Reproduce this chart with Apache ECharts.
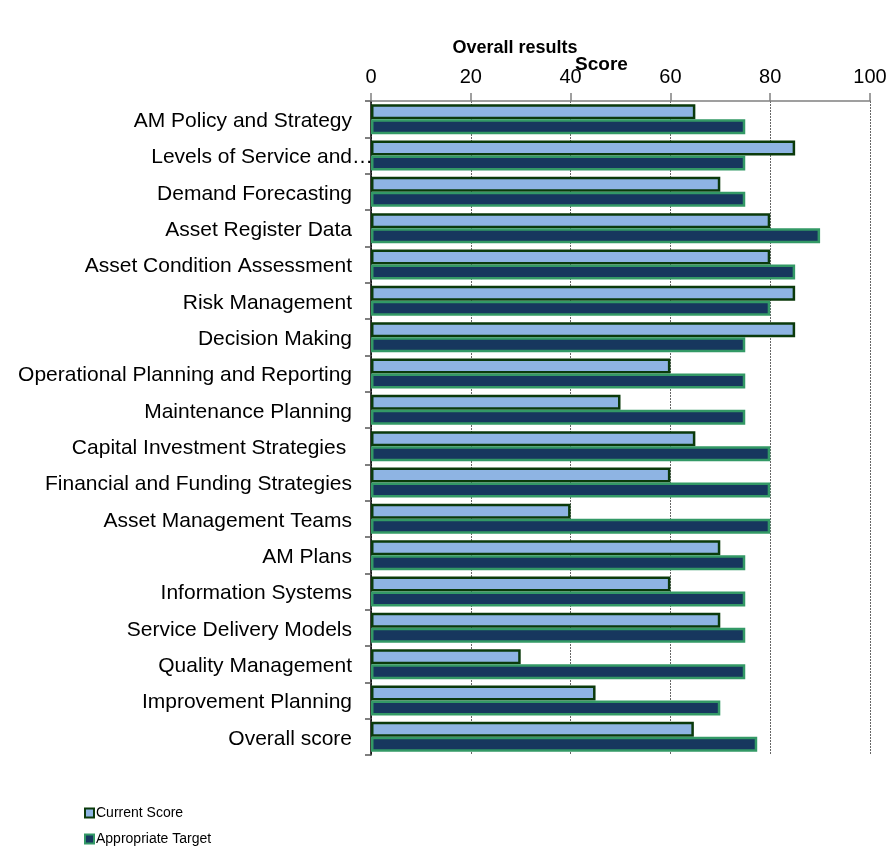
<!DOCTYPE html>
<html>
<head>
<meta charset="utf-8">
<script src="https://cdn.jsdelivr.net/npm/echarts@6/dist/echarts.min.js"></script>
<style>
  html, body { margin: 0; padding: 0; background: #fff; }
  #chart { width: 890px; height: 847px; }
</style>
</head>
<body>
<div id="chart"></div>
<script>
// Asset management maturity: current score vs appropriate target per practice area
const categories = [
  'AM Policy and Strategy',
  'Levels of Service and…',
  'Demand Forecasting',
  'Asset Register Data',
  'Asset Condition Assessment',
  'Risk Management',
  'Decision Making',
  'Operational Planning and Reporting',
  'Maintenance Planning',
  'Capital Investment Strategies ',
  'Financial and Funding Strategies',
  'Asset Management Teams',
  'AM Plans',
  'Information Systems',
  'Service Delivery Models',
  'Quality Management',
  'Improvement Planning',
  'Overall score'
];
const currentScore = [65, 85, 70, 80, 80, 85, 85, 60, 50, 65, 60, 40, 70, 60, 70, 30, 45, 64.7];
const appropriateTarget = [75, 75, 75, 90, 85, 80, 75, 75, 75, 80, 80, 80, 75, 75, 75, 75, 70, 77.4];
const scoreTicks = [0, 20, 40, 60, 80, 100];

const FONT = 'Liberation Sans, Arial, sans-serif';

const chart = echarts.init(document.getElementById('chart'), null, { renderer: 'canvas' });

const legendText = { fontFamily: FONT, fontSize: 14, color: '#000', padding: [0, 0, 0, -3] };

chart.setOption({
  animation: false,
  backgroundColor: '#ffffff',
  title: {
    text: 'Overall results',
    left: 510,
    textAlign: 'center',
    top: 34,
    textStyle: { fontFamily: FONT, fontSize: 18, fontWeight: 'bold', color: '#000' }
  },
  legend: [
    {
      orient: 'vertical', left: 79, top: 801,
      itemWidth: 9, itemHeight: 9, icon: 'rect',
      textStyle: legendText,
      data: ['Current Score']
    },
    {
      orient: 'vertical', left: 79, top: 827,
      itemWidth: 9, itemHeight: 9, icon: 'rect',
      textStyle: legendText,
      data: ['Appropriate Target']
    }
  ],
  grid: { left: 371, right: 20, top: 101, bottom: 92, containLabel: false },
  xAxis: {
    type: 'value',
    position: 'top',
    min: scoreTicks[0],
    max: scoreTicks[scoreTicks.length - 1],
    interval: scoreTicks[1] - scoreTicks[0],
    name: 'Score',
    nameLocation: 'middle',
    nameGap: 27,
    nameMoveOverlap: false,
    nameTextStyle: { fontFamily: FONT, fontSize: 19, fontWeight: 'bold', color: '#000', padding: [0, 38, 0, 0] },
    axisLine: { show: true, lineStyle: { color: '#808080', width: 1.5 } },
    axisTick: { show: true, length: 8, lineStyle: { color: '#808080', width: 1.5 } },
    axisLabel: { fontFamily: FONT, fontSize: 20, color: '#000', margin: 14 },
    splitLine: { show: true, lineStyle: { color: '#666', type: [2, 1], width: 1 } }
  },
  yAxis: {
    type: 'category',
    inverse: true,
    data: categories,
    axisLine: { show: true, lineStyle: { color: '#000', width: 1.5 } },
    axisTick: { show: true, length: 6, alignWithLabel: false, lineStyle: { color: '#555', width: 1.5 } },
    axisLabel: {
      fontFamily: FONT,
      fontSize: 21,
      color: '#000',
      margin: 19,
      padding: [4, 0, 0, 0],
      formatter: function (v) {
        // a clipped name keeps its text flush with the others; the ellipsis runs past
        if (v.endsWith('…')) {
          return '{t|' + v.slice(0, -1) + '}{e|…}';
        }
        return v;
      },
      rich: {
        t: { fontFamily: FONT, fontSize: 21, color: '#000' },
        e: { fontFamily: FONT, fontSize: 21, color: '#000', padding: [0, -21, 0, 0] }
      }
    }
  },
  series: [
    {
      name: 'Current Score',
      type: 'bar',
      data: currentScore,
      barWidth: 15,
      barGap: '0%',
      itemStyle: { color: '#8EB4E3', borderColor: '#0B3A0B', borderWidth: 2.5 }
    },
    {
      name: 'Appropriate Target',
      type: 'bar',
      data: appropriateTarget,
      barWidth: 15,
      barGap: '0%',
      itemStyle: { color: '#17375E', borderColor: '#339966', borderWidth: 2.5 }
    }
  ]
});
</script>
</body>
</html>
